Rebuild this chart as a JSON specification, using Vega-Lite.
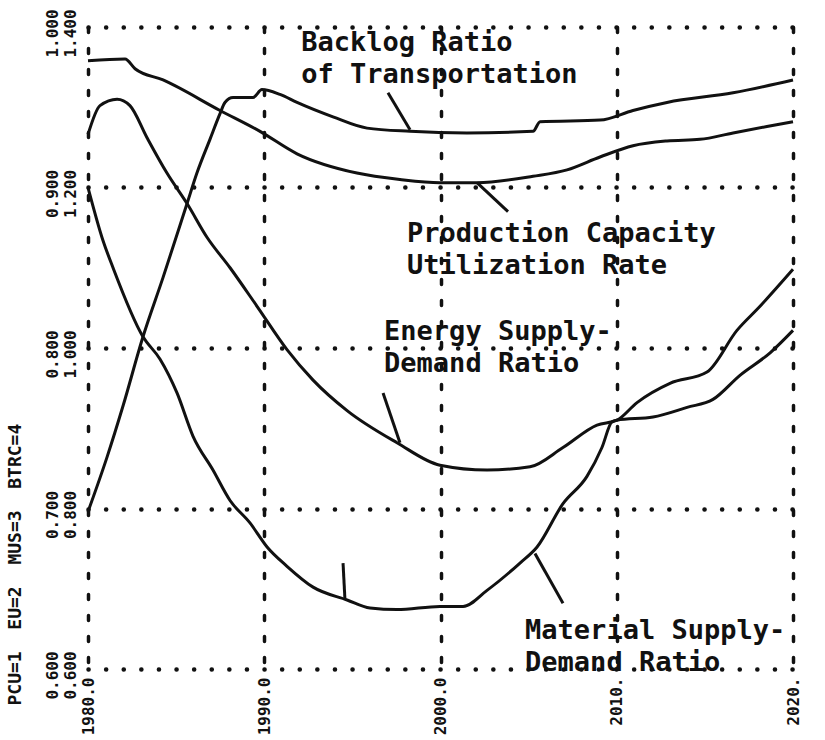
{
  "$schema": "https://vega.github.io/schema/vega-lite/v6.json",
  "width": 705,
  "height": 642,
  "autosize": {"type": "none"},
  "padding": {"left": 88, "top": 27, "right": 32, "bottom": 71},
  "background": "white",
  "config": {
    "view": {"stroke": null},
    "font": "DejaVu Sans Mono"
  },
  "datasets": {
    "curves": [
      {"series": "Backlog", "year": 1980.0, "value": 0.698},
      {"series": "Backlog", "year": 1981.08, "value": 0.732},
      {"series": "Backlog", "year": 1981.99, "value": 0.764},
      {"series": "Backlog", "year": 1983.12, "value": 0.807},
      {"series": "Backlog", "year": 1984.26, "value": 0.844},
      {"series": "Backlog", "year": 1985.62, "value": 0.890},
      {"series": "Backlog", "year": 1986.18, "value": 0.909},
      {"series": "Backlog", "year": 1986.92, "value": 0.930},
      {"series": "Backlog", "year": 1987.49, "value": 0.946},
      {"series": "Backlog", "year": 1987.77, "value": 0.953},
      {"series": "Backlog", "year": 1988.23, "value": 0.956},
      {"series": "Backlog", "year": 1989.36, "value": 0.956},
      {"series": "Backlog", "year": 1989.87, "value": 0.961},
      {"series": "Backlog", "year": 1990.89, "value": 0.958},
      {"series": "Backlog", "year": 1991.86, "value": 0.953},
      {"series": "Backlog", "year": 1993.90, "value": 0.944},
      {"series": "Backlog", "year": 1995.83, "value": 0.937},
      {"series": "Backlog", "year": 1998.27, "value": 0.935},
      {"series": "Backlog", "year": 2001.50, "value": 0.934},
      {"series": "Backlog", "year": 2005.25, "value": 0.935},
      {"series": "Backlog", "year": 2005.65, "value": 0.941},
      {"series": "Backlog", "year": 2009.05, "value": 0.942},
      {"series": "Backlog", "year": 2010.92, "value": 0.948},
      {"series": "Backlog", "year": 2012.85, "value": 0.953},
      {"series": "Backlog", "year": 2016.60, "value": 0.959},
      {"series": "Backlog", "year": 2020.0, "value": 0.967},

      {"series": "Production", "year": 1980.0, "value": 0.979},
      {"series": "Production", "year": 1982.10, "value": 0.980},
      {"series": "Production", "year": 1982.67, "value": 0.974},
      {"series": "Production", "year": 1984.26, "value": 0.967},
      {"series": "Production", "year": 1987.49, "value": 0.948},
      {"series": "Production", "year": 1989.76, "value": 0.935},
      {"series": "Production", "year": 1991.86, "value": 0.921},
      {"series": "Production", "year": 1995.26, "value": 0.909},
      {"series": "Production", "year": 1997.70, "value": 0.905},
      {"series": "Production", "year": 1999.97, "value": 0.903},
      {"series": "Production", "year": 2002.07, "value": 0.903},
      {"series": "Production", "year": 2005.25, "value": 0.907},
      {"series": "Production", "year": 2007.18, "value": 0.911},
      {"series": "Production", "year": 2009.05, "value": 0.919},
      {"series": "Production", "year": 2010.92, "value": 0.926},
      {"series": "Production", "year": 2012.85, "value": 0.929},
      {"series": "Production", "year": 2014.72, "value": 0.930},
      {"series": "Production", "year": 2016.60, "value": 0.934},
      {"series": "Production", "year": 2018.52, "value": 0.938},
      {"series": "Production", "year": 2020.0, "value": 0.941},

      {"series": "Energy", "year": 1980.0, "value": 0.933},
      {"series": "Energy", "year": 1980.68, "value": 0.951},
      {"series": "Energy", "year": 1981.65, "value": 0.955},
      {"series": "Energy", "year": 1982.38, "value": 0.951},
      {"series": "Energy", "year": 1983.35, "value": 0.931},
      {"series": "Energy", "year": 1984.48, "value": 0.909},
      {"series": "Energy", "year": 1985.62, "value": 0.890},
      {"series": "Energy", "year": 1986.75, "value": 0.869},
      {"series": "Energy", "year": 1988.06, "value": 0.850},
      {"series": "Energy", "year": 1989.59, "value": 0.826},
      {"series": "Energy", "year": 1991.29, "value": 0.799},
      {"series": "Energy", "year": 1992.77, "value": 0.780},
      {"series": "Energy", "year": 1994.70, "value": 0.761},
      {"series": "Energy", "year": 1997.53, "value": 0.741},
      {"series": "Energy", "year": 1999.97, "value": 0.727},
      {"series": "Energy", "year": 2002.64, "value": 0.724},
      {"series": "Energy", "year": 2005.08, "value": 0.726},
      {"series": "Energy", "year": 2006.95, "value": 0.738},
      {"series": "Energy", "year": 2008.88, "value": 0.752},
      {"series": "Energy", "year": 2010.01, "value": 0.755},
      {"series": "Energy", "year": 2011.15, "value": 0.766},
      {"series": "Energy", "year": 2013.02, "value": 0.778},
      {"series": "Energy", "year": 2015.12, "value": 0.785},
      {"series": "Energy", "year": 2016.82, "value": 0.811},
      {"series": "Energy", "year": 2018.13, "value": 0.826},
      {"series": "Energy", "year": 2020.0, "value": 0.849},

      {"series": "Material", "year": 1980.0, "value": 0.900},
      {"series": "Material", "year": 1980.85, "value": 0.867},
      {"series": "Material", "year": 1981.42, "value": 0.850},
      {"series": "Material", "year": 1983.12, "value": 0.807},
      {"series": "Material", "year": 1984.09, "value": 0.793},
      {"series": "Material", "year": 1985.05, "value": 0.772},
      {"series": "Material", "year": 1985.96, "value": 0.745},
      {"series": "Material", "year": 1987.09, "value": 0.724},
      {"series": "Material", "year": 1988.06, "value": 0.705},
      {"series": "Material", "year": 1989.19, "value": 0.691},
      {"series": "Material", "year": 1990.16, "value": 0.676},
      {"series": "Material", "year": 1991.29, "value": 0.664},
      {"series": "Material", "year": 1992.77, "value": 0.651},
      {"series": "Material", "year": 1994.70, "value": 0.643},
      {"series": "Material", "year": 1996.00, "value": 0.638},
      {"series": "Material", "year": 1997.53, "value": 0.637},
      {"series": "Material", "year": 1999.97, "value": 0.639},
      {"series": "Material", "year": 2001.28, "value": 0.639},
      {"series": "Material", "year": 2002.64, "value": 0.649},
      {"series": "Material", "year": 2004.51, "value": 0.666},
      {"series": "Material", "year": 2005.48, "value": 0.676},
      {"series": "Material", "year": 2006.95, "value": 0.703},
      {"series": "Material", "year": 2008.31, "value": 0.720},
      {"series": "Material", "year": 2009.16, "value": 0.738},
      {"series": "Material", "year": 2009.73, "value": 0.754},
      {"series": "Material", "year": 2010.01, "value": 0.755},
      {"series": "Material", "year": 2012.06, "value": 0.757},
      {"series": "Material", "year": 2013.99, "value": 0.763},
      {"series": "Material", "year": 2015.46, "value": 0.768},
      {"series": "Material", "year": 2016.99, "value": 0.783},
      {"series": "Material", "year": 2018.70, "value": 0.797},
      {"series": "Material", "year": 2020.0, "value": 0.811}
    ],
    "pointers": [
      {"year": 1997.02, "value": 0.959, "year2": 1998.27, "value2": 0.936},
      {"year": 2002.07, "value": 0.903, "year2": 2003.83, "value2": 0.885},
      {"year": 1996.74, "value": 0.772, "year2": 1997.70, "value2": 0.741},
      {"year": 2005.36, "value": 0.672, "year2": 2006.95, "value2": 0.641},
      {"year": 1994.47, "value": 0.666, "year2": 1994.58, "value2": 0.643}
    ],
    "labels": [
      {"text": "Backlog Ratio\nof Transportation", "year": 1992.10, "value": 0.985},
      {"text": "Production Capacity\nUtilization Rate", "year": 1998.10, "value": 0.866},
      {"text": "Energy Supply-\nDemand Ratio", "year": 1996.80, "value": 0.805},
      {"text": "Material Supply-\nDemand Ratio", "year": 2004.80, "value": 0.619}
    ]
  },
  "layer": [
    {
      "data": {"name": "curves"},
      "mark": {"type": "line", "color": "#111111", "strokeWidth": 3, "interpolate": "monotone"},
      "encoding": {
        "x": {
          "field": "year", "type": "quantitative",
          "scale": {"domain": [1980, 2020], "nice": false, "zero": false},
          "axis": {
            "values": [1980, 1990, 2000, 2010, 2020],
            "title": null,
            "domain": false,
            "ticks": false,
            "grid": true,
            "gridColor": "#111111",
            "gridOpacity": 1,
            "gridWidth": 3.5,
            "gridDash": [5, 16],
            "gridCap": "round",
            "labelAngle": -90,
            "labelAlign": "right",
            "labelBaseline": "middle",
            "labelPadding": 8,
            "labelFont": "DejaVu Sans Mono",
            "labelFontWeight": "bold",
            "labelFontSize": 16,
            "labelColor": "#111111",
            "labelExpr": "datum.value <= 2000 ? format(datum.value, '.1f') : format(datum.value, 'd') + '.'"
          }
        },
        "y": {
          "field": "value", "type": "quantitative",
          "scale": {"domain": [0.6, 1.0], "nice": false, "zero": false},
          "axis": {
            "values": [0.6, 0.7, 0.8, 0.9, 1.0],
            "domain": false,
            "ticks": false,
            "grid": true,
            "gridColor": "#111111",
            "gridOpacity": 1,
            "gridWidth": 4.5,
            "gridDash": [0.1, 17.5],
            "gridCap": "round",
            "labelAngle": -90,
            "labelAlign": "center",
            "labelBaseline": "bottom",
            "labelPadding": 28,
            "labelOffset": 6,
            "labelLineHeight": 18,
            "labelFont": "DejaVu Sans Mono",
            "labelFontWeight": "bold",
            "labelFontSize": 16,
            "labelColor": "#111111",
            "labelExpr": "[format(datum.value, '.3f'), format(2 * datum.value - 0.6, '.3f')]",
            "title": "PCU=1\u00a0\u00a0EU=2\u00a0\u00a0MUS=3\u00a0\u00a0BTRC=4",
            "titleFont": "DejaVu Sans Mono",
            "titleFontWeight": "bold",
            "titleFontSize": 18,
            "titleColor": "#111111",
            "titleAngle": -90,
            "titleX": -73,
            "titleY": 678,
            "titleAlign": "left",
            "titleBaseline": "middle"
          }
        },
        "detail": {"field": "series", "type": "nominal"}
      }
    },
    {
      "data": {"name": "pointers"},
      "mark": {"type": "rule", "color": "#111111", "strokeWidth": 3},
      "encoding": {
        "x": {"field": "year", "type": "quantitative"},
        "y": {"field": "value", "type": "quantitative"},
        "x2": {"field": "year2"},
        "y2": {"field": "value2"}
      }
    },
    {
      "data": {"name": "labels"},
      "mark": {"type": "text", "align": "left", "baseline": "alphabetic", "lineBreak": "\n", "lineHeight": 32, "font": "DejaVu Sans Mono", "fontWeight": "bold", "fontSize": 27, "color": "#111111"},
      "encoding": {
        "x": {"field": "year", "type": "quantitative"},
        "y": {"field": "value", "type": "quantitative"},
        "text": {"field": "text"}
      }
    }
  ]
}
